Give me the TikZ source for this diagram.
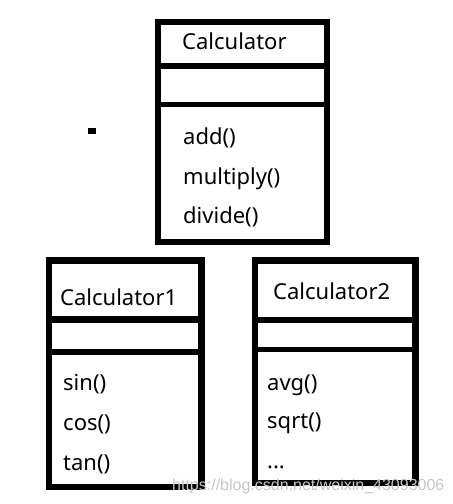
\documentclass[tikz,border=0pt]{standalone}
\usepackage{fontspec}
\setmainfont{Noto Sans}
\newfontfamily\urlfont{Liberation Sans}
\usetikzlibrary{positioning}
\begin{document}
\begin{tikzpicture}[x=1pt, y=-1pt,
    frame/.style={line width=6.5pt, draw=black},
    sep/.style={line width=6pt, draw=black},
    classname/.style={font=\fontsize{22}{22}\selectfont, anchor=base west, inner sep=0pt},
    method/.style={font=\fontsize{22}{22}\selectfont, anchor=base west, inner sep=0pt},
    watermark/.style={font=\urlfont\fontsize{16}{16}\selectfont, text=black!22, anchor=base west, inner sep=0pt},
  ]
  \useasboundingbox (0,0) rectangle (453,504);

  % Calculator
  \draw[frame] (158,22) rectangle (327,242);
  \draw[sep] (158,65.5) -- (327,65.5);
  \draw[sep, line width=5.5pt] (158,104.5) -- (327,104.5);
  \node[classname] (calc) at (182,49) {Calculator};
  \foreach \y/\m [count=\i] in {144/add(), 184/multiply(), 223/divide()}
    \node[method] (calc-m\i) at (183,\y) {\m};

  % stray dot
  \fill (88,128) rectangle (96,134);

  % Calculator1
  \draw[frame] (49,260.5) rectangle (201.5,487);
  \draw[sep, line width=7pt] (49,319.5) -- (201.5,319.5);
  \draw[sep] (49,352) -- (201.5,352);
  \node[classname] (calc1) at (60,305) {Calculator1};
  \foreach \y/\m [count=\i] in {390/sin(), 430/cos(), 470/tan()}
    \node[method] (calc1-m\i) at (63,\y) {\m};

  % Calculator2
  \draw[frame] (255,260.5) rectangle (415.5,483);
  \draw[sep] (255,320) -- (415.5,320);
  \draw[sep, line width=5.5pt] (255,349.5) -- (415.5,349.5);
  \node[classname] (calc2) at (273,299) {Calculator2};
  \foreach \y/\m [count=\i] in {390/avg(), 428/sqrt()}
    \node[method] (calc2-m\i) at (267,\y) {\m};
  \node[method] (calc2-m3) at (267,468) {...};

  % watermark
  \node[watermark] (url) at (172,490) {https://blog.csdn.net/weixin\_43093006};
\end{tikzpicture}
\end{document}
